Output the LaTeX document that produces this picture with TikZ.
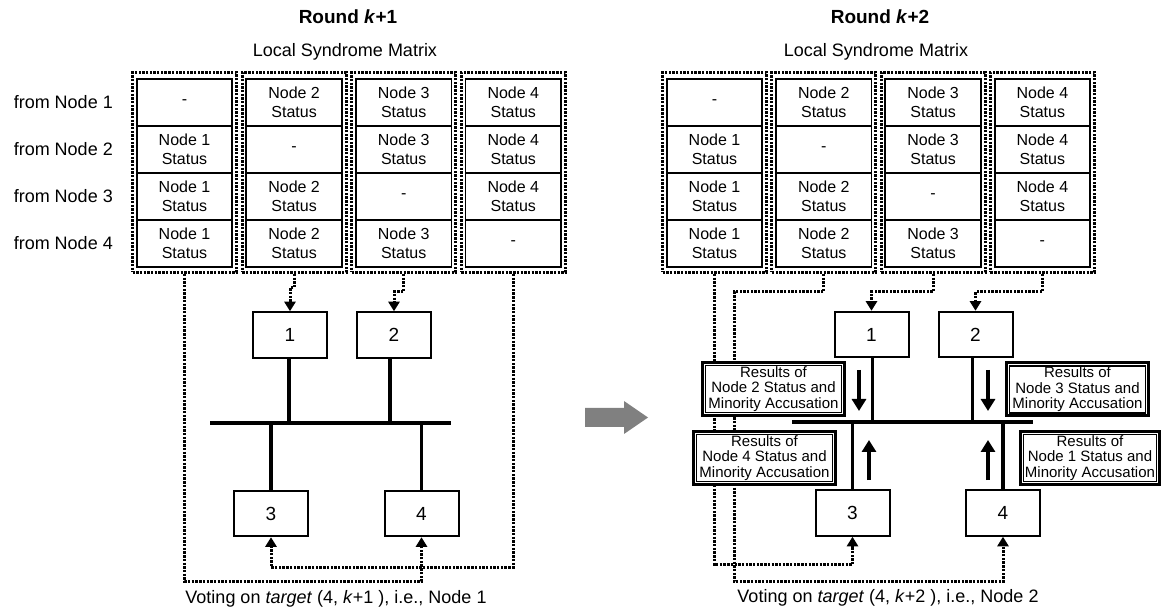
\documentclass[tikz,border=0pt]{standalone}
\usepackage{fontspec}
\setmainfont{Liberation Sans}
\usetikzlibrary{arrows.meta}
\begin{document}
\begin{tikzpicture}[x=1pt,y=-1pt,
  txt/.style={inner sep=0pt,font=\fontsize{18}{21}\selectfont},
  grp/.style={draw,line width=3pt,dash pattern=on 2.4pt off 1.3pt,minimum width=104pt,minimum height=200pt,inner sep=0pt},
  cell/.style={draw,line width=1.8pt,minimum width=95.5pt,minimum height=47pt,inner sep=0pt,align=center,font=\fontsize{16}{19}\selectfont},
  unit/.style={draw,line width=2pt,fill=white,minimum width=74pt,minimum height=45.5pt,inner sep=0pt,font=\fontsize{19}{22}\selectfont},
  conn/.style={line width=3pt,dash pattern=on 2.4pt off 1.3pt,-{Triangle[width=11pt,length=9.5pt]}},
  bus/.style={line width=3.4pt},
  flow/.style={line width=4pt,-{Triangle[width=14pt,length=12pt]}},
  res/.style={draw,line width=3pt,fill=white,minimum width=142pt,minimum height=53pt,inner sep=0pt,align=center,font=\fontsize{15}{15.5}\selectfont},
]
\useasboundingbox (0,0) rectangle (1163,612);

% ---------- titles ----------
\node[txt,font=\bfseries\fontsize{19}{22}\selectfont] (L-title) at (348,17) {Round \textit{k}+1};
\node[txt,font=\bfseries\fontsize{19}{22}\selectfont] (R-title) at (880,17) {Round \textit{k}+2};
\node[txt] (L-lsm) at (345,52) {Local Syndrome Matrix};
\node[txt] (R-lsm) at (876,52) {Local Syndrome Matrix};

% ---------- row labels ----------
\foreach \r in {1,...,4}
  \node[txt,anchor=east] (from\r) at (113,{102.5+(\r-1)*47}) {from Node \r};

% ---------- local syndrome matrices ----------
\foreach \p/\xa/\dx in {L/184.5/109.6, R/714.5/109.3} {
  \foreach \c in {1,...,4} {
    \pgfmathsetmacro\cx{\xa+(\c-1)*\dx}
    \node[grp] (\p-g\c) at (\cx,172.5) {};
    \foreach \r in {1,...,4} {
      \pgfmathsetmacro\cy{102.5+(\r-1)*47}
      \ifnum\r=\c \def\celltext{-}\else\def\celltext{Node \c\\Status}\fi
      \node[cell] (\p-c\r\c) at (\cx,\cy) {\celltext};
    }
  }
}

% ---------- round k+1: nodes and bus ----------
\node[unit] (L-n1) at (290,335) {1};
\node[unit] (L-n2) at (394,335) {2};
\node[unit] (L-n3) at (271,513.5) {3};
\node[unit] (L-n4) at (421.5,513.5) {4};
\coordinate (L-busw) at (210,423);
\coordinate (L-buse) at (451,423);
\draw[bus] (L-busw) -- (L-buse);
\draw[bus] ([xshift=-1pt]L-n1.south) -- ([xshift=-1pt]L-n1.south |- L-busw);
\draw[bus] ([xshift=-4pt]L-n2.south) -- ([xshift=-4pt]L-n2.south |- L-busw);
\draw[bus] (L-n3.north) -- (L-n3.north |- L-busw);
\draw[bus] (L-n4.north) -- (L-n4.north |- L-busw);

% ---------- round k+1: syndrome columns to voters ----------
\draw[conn] (L-g2.south) -- ++(0,14) -| (L-n1.north);
\draw[conn] (L-g3.south) -- ++(0,18) -| (L-n2.north);
\draw[conn] (L-g1.south) |- ([yshift=-44pt]L-n4.south) -- (L-n4.south);
\draw[conn] (L-g4.south) |- ([yshift=-30pt]L-n3.south) -- (L-n3.south);

\node[txt] (L-vote) at (336,599) {Voting on \textit{target} (4, \textit{k}+1 ), i.e., Node 1};

% ---------- transition arrow ----------
\fill[gray] (585,408) -- (624,408) -- (624,401) -- (648,417.5) -- (624,434) -- (624,427) -- (585,427) -- cycle;

% ---------- round k+2: nodes and bus ----------
\node[unit] (R-n1) at (871.5,334.5) {1};
\node[unit] (R-n2) at (975.5,334.5) {2};
\node[unit] (R-n3) at (852.5,513) {3};
\node[unit] (R-n4) at (1003,513) {4};
\coordinate (R-busw) at (792,422);
\coordinate (R-buse) at (1033,422);
\draw[bus] (R-busw) -- (R-buse);
\draw[bus] ([xshift=1pt]R-n1.south) -- ([xshift=1pt]R-n1.south |- R-busw);
\draw[bus] ([xshift=-3pt]R-n2.south) -- ([xshift=-3pt]R-n2.south |- R-busw);
\draw[bus] (R-n3.north) -- (R-n3.north |- R-busw);
\draw[bus] (R-n4.north) -- (R-n4.north |- R-busw);

% ---------- round k+2: syndrome columns to voters ----------
\coordinate (R-bend) at (734,292);
\draw[conn] (R-g3.south) -- ++(0,18) -| (R-n1.north);
\draw[conn] (R-g4.south) -- ++(0,18) -| (R-n2.north);
\draw[conn] (R-g1.south) |- ([yshift=-28pt]R-n3.south) -- (R-n3.south);
\draw[conn] (R-g2.south) |- (R-bend) |- ([yshift=-45pt]R-n4.south) -- (R-n4.south);

% ---------- broadcast results ----------
\node[res] (R-r2) at (773.5,389) {Results of\\Node 2 Status and\\Minority Accusation};
\node[res] (R-r4) at (764.5,458) {Results of\\Node 4 Status and\\Minority Accusation};
\node[res] (R-r3) at (1077.5,389.5) {Results of\\Node 3 Status and\\Minority Accusation};
\node[res,minimum width=139pt] (R-r1) at (1090,458) {Results of\\Node 1 Status and\\Minority Accusation};
\foreach \q in {R-r1,R-r2,R-r3,R-r4}
  \draw[line width=1.1pt] ([xshift=4.5pt,yshift=-4.5pt]\q.north west) rectangle ([xshift=-4.5pt,yshift=4.5pt]\q.south east);

\coordinate (f1a) at (859,370);  \coordinate (f1b) at (859,411);
\coordinate (f2a) at (988,370);  \coordinate (f2b) at (988,411);
\coordinate (f3a) at (869,480);  \coordinate (f3b) at (869,440);
\coordinate (f4a) at (988,480);  \coordinate (f4b) at (988,440);
\draw[flow] (f1a) -- (f1b);
\draw[flow] (f2a) -- (f2b);
\draw[flow] (f3a) -- (f3b);
\draw[flow] (f4a) -- (f4b);

\node[txt] (R-vote) at (888,598) {Voting on \textit{target} (4, \textit{k}+2 ), i.e., Node 2};
\end{tikzpicture}
\end{document}
